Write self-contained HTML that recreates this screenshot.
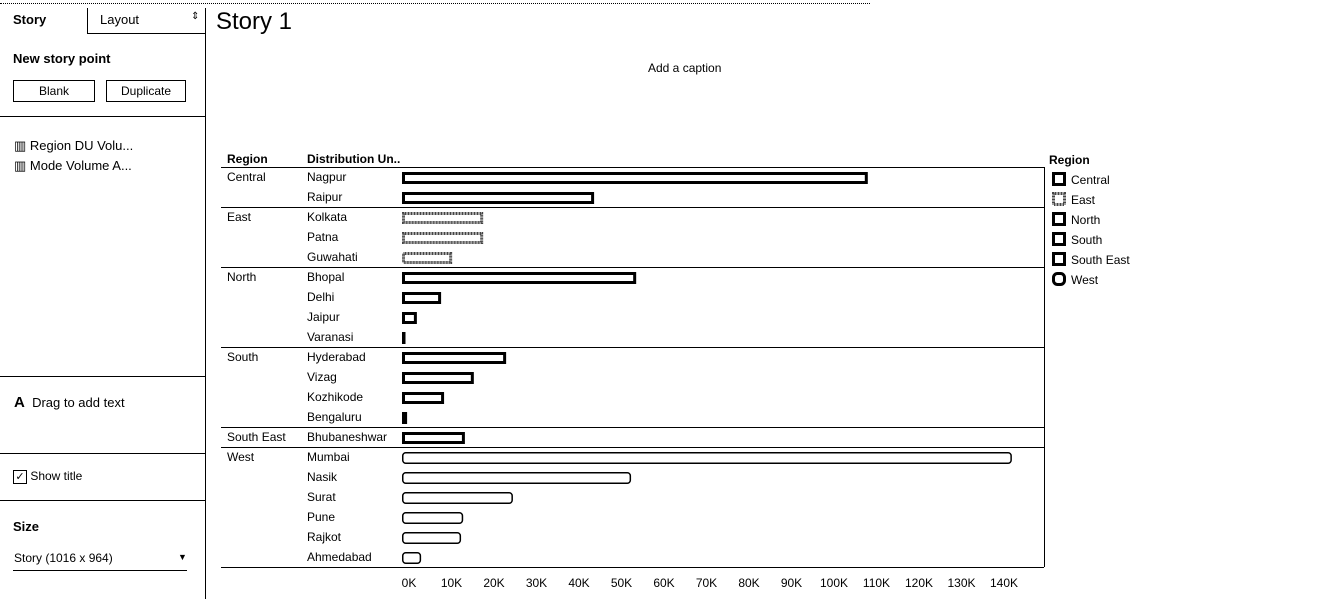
<!DOCTYPE html>
<html><head><meta charset="utf-8"><style>
body{margin:0;width:1318px;height:599px;background:#fff;font-family:"Liberation Sans",sans-serif;color:#000;position:relative;overflow:hidden}
.a{position:absolute;font-size:12px;white-space:nowrap}
.btn{position:absolute;border:1px solid #000;font-size:12px;text-align:center;line-height:20px;height:20px}
.h{position:absolute;background:#000;height:1px}
.v{position:absolute;background:#000;width:1px}
</style></head><body>
<div style="position:absolute;left:0;top:3px;width:870px;border-top:1px dotted #000"></div>
<div class="v" style="left:205px;top:8px;height:591px"></div>
<div class="a" style="left:13px;top:12px;font-weight:bold;font-size:13px">Story</div>
<div class="v" style="left:87px;top:8px;height:25px"></div>
<div class="h" style="left:87px;top:33px;width:118px"></div>
<div class="a" style="left:100px;top:12px;font-size:13px">Layout</div>
<div class="a" style="left:191px;top:11px;font-size:10px">⇕</div>
<div class="a" style="left:13px;top:51px;font-weight:bold;font-size:13px">New story point</div>
<div class="btn" style="left:13px;top:80px;width:80px">Blank</div>
<div class="btn" style="left:106px;top:80px;width:78px">Duplicate</div>
<div class="h" style="left:0;top:116px;width:205px"></div>
<div class="a" style="left:14px;top:138px;font-size:13px">▥ Region DU Volu...</div>
<div class="a" style="left:14px;top:158px;font-size:13px">▥ Mode Volume A...</div>
<div class="h" style="left:0;top:376px;width:205px"></div>
<div class="a" style="left:14px;top:394px;font-size:13px"><b style="font-size:15px">A</b>&nbsp; Drag to add text</div>
<div class="h" style="left:0;top:453px;width:205px"></div>
<div class="a" style="left:13px;top:469px;font-size:12px"><span style="display:inline-block;width:12px;height:12px;border:1px solid #000;line-height:12px;text-align:center;font-size:11px;vertical-align:middle">✓</span> Show title</div>
<div class="h" style="left:0;top:500px;width:205px"></div>
<div class="a" style="left:13px;top:519px;font-weight:bold;font-size:13px">Size</div>
<div class="a" style="left:14px;top:551px">Story (1016 x 964)</div>
<div class="a" style="left:178px;top:552px;font-size:9px">▼</div>
<div class="h" style="left:13px;top:570px;width:174px"></div>
<div class="a" style="left:216px;top:8px;font-size:24px">Story 1</div>
<div class="a" style="left:648px;top:61px">Add a caption</div>
<div class="a" style="left:227px;top:152px;font-weight:bold">Region</div>
<div class="a" style="left:307px;top:152px;font-weight:bold">Distribution Un..</div>
<div class="a" style="left:1049px;top:153px;font-weight:bold">Region</div>
<svg id="c" width="1318" height="599" style="position:absolute;left:0;top:0"></svg>
<script>
const regions=["Central","East","North","South","South East","West"];
const regionCounts=[2,3,4,4,1,6];
const cities=["Nagpur","Raipur","Kolkata","Patna","Guwahati","Bhopal","Delhi","Jaipur","Varanasi","Hyderabad","Vizag","Kozhikode","Bengaluru","Bhubaneshwar","Mumbai","Nasik","Surat","Pune","Rajkot","Ahmedabad"];
const volumes=[109.6,45.2,19.1,19.1,11.8,55.1,9.2,3.5,0.7,24.5,16.9,9.9,1.2,14.8,143.5,53.9,26.1,14.4,13.9,4.5];
const ticks=[0,10,20,30,40,50,60,70,80,90,100,110,120,130,140];
const NS="http://www.w3.org/2000/svg",svg=document.getElementById('c');
const x=v=>402+v*4.25, rowY=i=>168+i*20;
function mk(t,a){const e=document.createElementNS(NS,t);for(const k in a)e.setAttribute(k,a[k]);svg.appendChild(e);return e;}
let l=mk('line',{x1:221,x2:1044,y1:167.5,y2:167.5,stroke:'#000'});


l=mk('line',{x1:1044.5,x2:1044.5,y1:167,y2:567,stroke:'#000'});


let idx=0;
regions.forEach((r,ri)=>{
  const t=mk('text',{x:227,y:rowY(idx)+13,'font-size':12});t.textContent=r;
  
  
  idx+=regionCounts[ri];
  const s=mk('line',{x1:221,x2:1044,y1:rowY(idx)-0.5,y2:rowY(idx)-0.5,stroke:'#000'});
  
  
});
let ri=0,cnt=0;
cities.forEach((c,i)=>{
  if(cnt>=regionCounts[ri]){ri++;cnt=0;} cnt++;
  const t=mk('text',{x:307,y:rowY(i)+13,'font-size':12});t.textContent=c;
  
  
  const w=Math.max(1,x(volumes[i])-x(0));
  const sw=ri==5?1.5:3;
  const b=mk('rect',{x:x(0)+sw/2,y:rowY(i)+4+sw/2,width:Math.max(0.5,w-sw),height:12-sw,fill:'#fff',stroke:ri==1?'#444':'#000','stroke-width':sw,'stroke-dasharray':ri==1?'1 0.5':'none',rx:ri==5?3:0});
  
  
});
ticks.forEach(v=>{
  const t=mk('text',{x:x(v)+7,y:587,'font-size':12,'text-anchor':'middle'});t.textContent=v+'K';
  
  
});
regions.forEach((r,i)=>{
  const y=173+i*20;
  const b=mk('rect',{x:1053.5,y:y+0.5,width:11,height:11,fill:'#fff',stroke:i==1?'#444':'#000','stroke-width':3,rx:i==5?4:0,'stroke-dasharray':i==1?'1 0.5':'none'});
  
  
  const t=mk('text',{x:1071,y:y+11,'font-size':12});t.textContent=r;
  
  
});
</script>
</body></html>
